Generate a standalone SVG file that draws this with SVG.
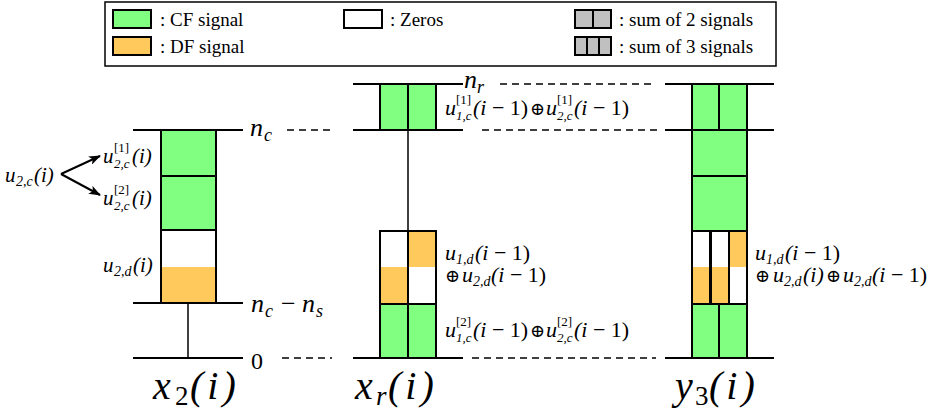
<svg xmlns="http://www.w3.org/2000/svg" width="944" height="414" viewBox="0 0 944 414" font-family="Liberation Serif, serif">
<defs>
<style>
.cf{fill:#80ff80;stroke:#000;stroke-width:2}
.df{fill:#ffc95c;stroke:none}
.ze{fill:#fff;stroke:#000;stroke-width:2}
.gr{fill:#c0c0c0;stroke:#000;stroke-width:2}
.ol{fill:none;stroke:#000;stroke-width:2}
.ln{stroke:#000;stroke-width:2;fill:none}
.da{stroke:#000;stroke-width:1.6;stroke-dasharray:7 5;fill:none}
</style>
<marker id="ah" markerWidth="12" markerHeight="9" refX="11" refY="4.5" orient="auto" markerUnits="userSpaceOnUse">
<path d="M0,0 L12,4.5 L0,9 L3,4.5 Z" fill="#000"/>
</marker>
</defs>
<rect width="944" height="414" fill="#fff"/>

<g id="legend">
<rect x="105" y="2" width="671" height="64" fill="#fff" stroke="#000" stroke-width="1.5"/>
<rect class="cf" x="113" y="10" width="38" height="18"/>
<text font-family="Liberation Serif" font-size="19" x="160" y="26">: CF signal</text>
<rect x="113" y="37" width="38" height="18" fill="#ffc95c" stroke="#000" stroke-width="2"/>
<text font-family="Liberation Serif" font-size="19" x="160" y="53">: DF signal</text>
<rect class="ze" x="344" y="10" width="38" height="18"/>
<text font-family="Liberation Serif" font-size="19" x="390" y="26">: Zeros</text>
<rect class="gr" x="575" y="10" width="18" height="18"/>
<rect class="gr" x="593" y="10" width="18" height="18"/>
<text font-family="Liberation Serif" font-size="19" x="619" y="26">: sum of 2 signals</text>
<rect class="gr" x="575" y="37" width="12" height="18"/>
<rect class="gr" x="587" y="37" width="12" height="18"/>
<rect class="gr" x="599" y="37" width="12" height="18"/>
<text font-family="Liberation Serif" font-size="19" x="619" y="53">: sum of 3 signals</text>
</g>

<g id="connectors">
<line class="ln" x1="133" y1="130" x2="243" y2="130"/>
<line class="ln" x1="133" y1="303" x2="243" y2="303"/>
<line class="ln" x1="133" y1="358" x2="243" y2="358"/>
<line x1="188" y1="303" x2="188" y2="358" stroke="#000" stroke-width="1.5"/>
<line class="ln" x1="353" y1="84" x2="463" y2="84"/>
<line class="ln" x1="353" y1="130" x2="463" y2="130"/>
<line class="ln" x1="353" y1="358" x2="463" y2="358"/>
<line x1="408" y1="130" x2="408" y2="231" stroke="#000" stroke-width="1.5"/>
<line class="ln" x1="665" y1="84" x2="774" y2="84"/>
<line class="ln" x1="665" y1="130" x2="774" y2="130"/>
<line class="ln" x1="665" y1="358" x2="774" y2="358"/>
<line class="da" x1="287" y1="130" x2="332" y2="130"/>
<line class="da" x1="482" y1="130" x2="662" y2="130"/>
<line class="da" x1="500" y1="84" x2="656" y2="84"/>
<line class="da" x1="282" y1="358" x2="332" y2="358"/>
<line class="da" x1="472" y1="358" x2="656" y2="358"/>
<line x1="61" y1="174" x2="100" y2="156" stroke="#000" stroke-width="2" marker-end="url(#ah)"/>
<line x1="61" y1="174" x2="100" y2="195" stroke="#000" stroke-width="2" marker-end="url(#ah)"/>
</g>

<g id="x2-stack">
<rect class="cf" x="161" y="130" width="55" height="46"/>
<rect class="cf" x="161" y="176" width="55" height="54"/>
<rect x="161" y="230" width="55" height="73" fill="#fff"/>
<rect class="df" x="161" y="267" width="55" height="36"/>
<rect class="ol" x="161" y="230" width="55" height="73"/>
</g>

<g id="xr-stack">
<rect class="cf" x="380" y="84" width="28" height="46"/>
<rect class="cf" x="408" y="84" width="28" height="46"/>
<rect x="380" y="231" width="56" height="73" fill="#fff"/>
<rect class="df" x="380" y="267" width="28" height="37"/>
<rect class="df" x="408" y="231" width="28" height="36"/>
<rect class="ol" x="380" y="231" width="28" height="73"/>
<rect class="ol" x="408" y="231" width="28" height="73"/>
<rect class="cf" x="380" y="304" width="28" height="54"/>
<rect class="cf" x="408" y="304" width="28" height="54"/>
</g>

<g id="y3-stack">
<rect class="cf" x="692" y="84" width="27" height="46"/>
<rect class="cf" x="719" y="84" width="28" height="46"/>
<rect class="cf" x="692" y="130" width="55" height="46"/>
<rect class="cf" x="692" y="176" width="55" height="55"/>
<rect x="692" y="231" width="55" height="73" fill="#fff"/>
<rect class="df" x="692" y="267" width="37" height="37"/>
<rect class="df" x="729" y="231" width="18" height="36"/>
<rect class="ol" x="692" y="231" width="18" height="73"/>
<rect class="ol" x="711" y="231" width="18" height="73"/>
<rect class="ol" x="729" y="231" width="18" height="73"/>
<rect class="cf" x="692" y="304" width="27" height="54"/>
<rect class="cf" x="719" y="304" width="28" height="54"/>
</g>

<g id="level-labels">
<text font-family="Liberation Serif" font-style="italic" font-size="26" x="250" y="136">n<tspan font-size="18" x="264" y="141">c</tspan></text>
<text font-family="Liberation Serif" font-style="italic" font-size="26" x="251" y="312">n<tspan font-size="18" x="265" y="317">c</tspan><tspan font-style="normal" x="281" y="312">−</tspan><tspan x="302" y="312">n</tspan><tspan font-size="18" x="316" y="317">s</tspan></text>
<text font-family="Liberation Serif" font-size="24" x="251" y="369">0</text>
<text font-family="Liberation Serif" font-style="italic" font-size="26" x="464" y="88">n<tspan font-size="18" x="477" y="93">r</tspan></text>
</g>

<g id="x2-labels">
<text font-family="Liberation Serif" font-style="italic" font-size="21" x="5" y="182">u<tspan font-size="14" x="16" y="186">2,c</tspan><tspan x="34" y="182">(i)</tspan></text>
<text font-family="Liberation Serif" font-style="italic" font-size="21" x="103" y="163">u<tspan font-size="13" font-style="normal" x="114" y="152">[1]</tspan><tspan font-size="13" x="114" y="168">2,c</tspan><tspan x="132" y="163">(i)</tspan></text>
<text font-family="Liberation Serif" font-style="italic" font-size="21" x="103" y="205">u<tspan font-size="13" font-style="normal" x="114" y="194">[2]</tspan><tspan font-size="13" x="114" y="210">2,c</tspan><tspan x="132" y="205">(i)</tspan></text>
<text font-family="Liberation Serif" font-style="italic" font-size="21" x="103" y="272">u<tspan font-size="14" x="114" y="276">2,d</tspan><tspan x="133" y="272">(i)</tspan></text>
</g>

<g id="xr-labels">
<text font-family="Liberation Serif" font-style="italic" font-size="22" x="445" y="115">u<tspan font-size="13" font-style="normal" x="456" y="104">[1]</tspan><tspan font-size="13" x="456" y="120">1,c</tspan><tspan x="473" y="115">(i <tspan font-style="normal">− 1)</tspan></tspan><tspan font-family="DejaVu Serif" font-style="normal" font-size="18" x="530" y="115">⊕</tspan><tspan x="546" y="115">u</tspan><tspan font-size="13" font-style="normal" x="557" y="104">[1]</tspan><tspan font-size="13" x="557" y="120">2,c</tspan><tspan x="574" y="115">(i <tspan font-style="normal">− 1)</tspan></tspan></text>
<text font-family="Liberation Serif" font-style="italic" font-size="22" x="445" y="260">u<tspan font-size="14" x="456" y="264">1,d</tspan><tspan x="475" y="260">(i <tspan font-style="normal">− 1)</tspan></tspan><tspan font-family="DejaVu Serif" font-style="normal" font-size="18" x="445" y="282">⊕</tspan><tspan x="462" y="282">u</tspan><tspan font-size="14" x="473" y="286">2,d</tspan><tspan x="491" y="282">(i <tspan font-style="normal">− 1)</tspan></tspan></text>
<text font-family="Liberation Serif" font-style="italic" font-size="22" x="445" y="337">u<tspan font-size="13" font-style="normal" x="456" y="326">[2]</tspan><tspan font-size="13" x="456" y="342">1,c</tspan><tspan x="473" y="337">(i <tspan font-style="normal">− 1)</tspan></tspan><tspan font-family="DejaVu Serif" font-style="normal" font-size="18" x="530" y="337">⊕</tspan><tspan x="546" y="337">u</tspan><tspan font-size="13" font-style="normal" x="557" y="326">[2]</tspan><tspan font-size="13" x="557" y="342">2,c</tspan><tspan x="574" y="337">(i <tspan font-style="normal">− 1)</tspan></tspan></text>
</g>

<g id="y3-labels">
<text font-family="Liberation Serif" font-style="italic" font-size="22" x="755" y="260">u<tspan font-size="14" x="766" y="264">1,d</tspan><tspan x="785" y="260">(i <tspan font-style="normal">− 1)</tspan></tspan><tspan font-family="DejaVu Serif" font-style="normal" font-size="18" x="755" y="282">⊕</tspan><tspan x="773" y="282">u</tspan><tspan font-size="14" x="784" y="286">2,d</tspan><tspan x="803" y="282">(i)</tspan><tspan font-family="DejaVu Serif" font-style="normal" font-size="18" x="826" y="282">⊕</tspan><tspan x="843" y="282">u</tspan><tspan font-size="14" x="854" y="286">2,d</tspan><tspan x="872" y="282">(i <tspan font-style="normal">− 1)</tspan></tspan></text>
</g>

<g id="titles">
<text font-family="Liberation Serif" font-style="italic" font-size="40" x="153" y="399">x<tspan font-style="normal" font-size="27" x="175" y="405">2</tspan><tspan letter-spacing="4" x="190" y="399">(i)</tspan></text>
<text font-family="Liberation Serif" font-style="italic" font-size="40" x="355" y="399">x<tspan font-size="27" x="376" y="405">r</tspan><tspan letter-spacing="4" x="388" y="399">(i)</tspan></text>
<text font-family="Liberation Serif" font-style="italic" font-size="40" x="675" y="399">y<tspan font-style="normal" font-size="27" x="695" y="405">3</tspan><tspan letter-spacing="4" x="709" y="399">(i)</tspan></text>
</g>
</svg>
